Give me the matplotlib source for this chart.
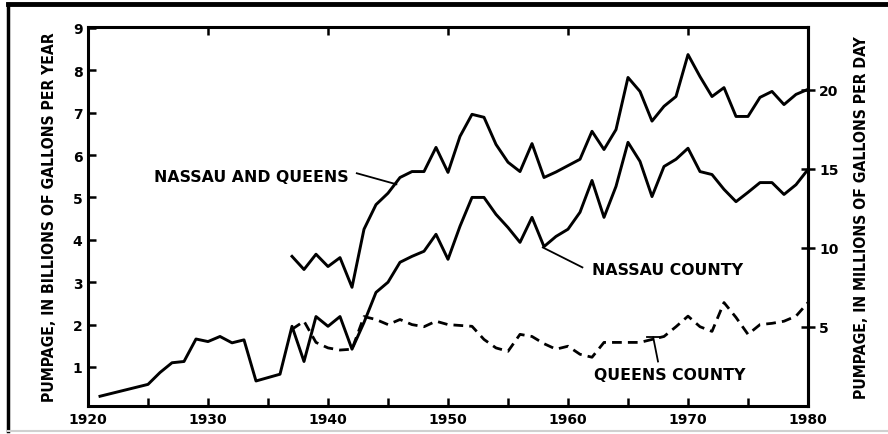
import matplotlib
matplotlib.use("Agg")
import matplotlib.pyplot as plt
from matplotlib import font_manager
from matplotlib.font_manager import FontProperties
from matplotlib.lines import Line2D

# Pumpage, billions of gallons per year
combined_years = list(range(1937, 1981))
combined_vals = [3.61, 3.30, 3.66, 3.37, 3.58, 2.88, 4.25, 4.83, 5.10, 5.47,
                 5.61, 5.61, 6.18, 5.59, 6.44, 6.96, 6.89, 6.25, 5.83, 5.61,
                 6.27, 5.47, 5.60, 5.75, 5.90, 6.56, 6.13, 6.60, 7.83, 7.50,
                 6.80, 7.15, 7.38, 8.37, 7.85, 7.38, 7.59, 6.91, 6.91, 7.36,
                 7.50, 7.19, 7.43, 7.55]

nassau_years = [1921, 1925, 1926, 1927, 1928, 1929, 1930, 1931, 1932, 1933,
                1934, 1936] + list(range(1937, 1981))
nassau_vals = [0.31, 0.59, 0.87, 1.10, 1.13, 1.66, 1.60, 1.72, 1.57, 1.64,
               0.67, 0.83,
               1.96, 1.13, 2.19, 1.96, 2.19, 1.42, 2.05, 2.76, 3.00, 3.47,
               3.61, 3.73, 4.13, 3.54, 4.32, 5.00, 5.00, 4.60, 4.29, 3.94,
               4.53, 3.84, 4.08, 4.25, 4.65, 5.40, 4.53, 5.26, 6.30, 5.85,
               5.02, 5.73, 5.90, 6.16, 5.61, 5.54, 5.19, 4.90, 5.12, 5.35,
               5.35, 5.07, 5.30, 5.66]

queens_years = list(range(1937, 1981))
queens_vals = [1.89, 2.08, 1.58, 1.45, 1.40, 1.42, 2.19, 2.12, 2.00, 2.12,
               2.00, 1.95, 2.08, 2.00, 1.98, 1.96, 1.65, 1.45, 1.37, 1.77,
               1.72, 1.55, 1.42, 1.49, 1.30, 1.23, 1.58, 1.58, 1.58, 1.58,
               1.65, 1.72, 1.95, 2.20, 1.95, 1.84, 2.52, 2.17, 1.77, 2.00,
               2.03, 2.08, 2.20, 2.52]

left_ticks = [1, 2, 3, 4, 5, 6, 7, 8, 9]
right_ticks = [5, 10, 15, 20]
decade_ticks = [1920, 1930, 1940, 1950, 1960, 1970, 1980]
half_ticks = [1925, 1935, 1945, 1955, 1965, 1975]

Y0 = 0.08            # bottom of the left scale
MGD_PER_UNIT = 2.68  # right scale as drawn on the scanned figure

# look for a narrow bold face for the axis titles
title_fp = None
for f in font_manager.fontManager.ttflist:
    narrow = ("Narrow" in f.name or "Condensed" in f.name
              or "condensed" in str(f.stretch) or f.fname.lower().find("condensed") >= 0)
    if narrow and str(f.weight) in ("bold", "700", "600"):
        title_fp = FontProperties(fname=f.fname)
        break
if title_fp is None:
    title_fp = FontProperties(family="DejaVu Sans", weight="bold")
    title_size = 9.6
else:
    title_size = 11.3
title_fp.set_size(title_size)

W, H = 888, 435
fig = plt.figure(figsize=(W / 100, H / 100), dpi=100)
ax = fig.add_axes([88 / W, 1 - 407 / H, 720 / W, 379 / H])

ax.plot(combined_years, combined_vals, color="black", lw=2.1, solid_joinstyle="round")
ax.plot(nassau_years, nassau_vals, color="black", lw=2.1, solid_joinstyle="round")
ax.plot(queens_years, queens_vals, color="black", lw=2.0,
        linestyle=(0, (3.5, 2.2)), dash_capstyle="butt")

ax.set_xlim(1920, 1980)
ax.set_ylim(Y0, 9.02)

for s in ax.spines.values():
    s.set_linewidth(2.2)

ax.set_xticks(decade_ticks)
ax.set_xticks(half_ticks, minor=True)
ax.set_yticks(left_ticks)
ax.tick_params(axis="x", which="both", direction="in", length=6, width=1.8,
               pad=4, labelsize=10, top=True)
ax.tick_params(axis="x", which="minor", top=False)
ax.tick_params(axis="y", direction="in", length=6, width=1.8, pad=4, labelsize=10)
for lab in ax.get_xticklabels() + ax.get_yticklabels():
    lab.set_fontweight("bold")

sec = ax.secondary_yaxis("right", functions=(lambda y: (y - Y0) * MGD_PER_UNIT,
                                             lambda m: m / MGD_PER_UNIT + Y0))
sec.set_yticks(right_ticks)
sec.tick_params(direction="inout", length=10, width=1.8, pad=3, labelsize=10)
sec.spines["right"].set_linewidth(2.2)
for lab in sec.get_yticklabels():
    lab.set_fontweight("bold")

ax.set_ylabel("PUMPAGE, IN BILLIONS OF GALLONS PER YEAR", fontproperties=title_fp,
              labelpad=11)
sec.set_ylabel("PUMPAGE, IN MILLIONS OF GALLONS PER DAY", fontproperties=title_fp,
               labelpad=11)

# curve labels with leader lines
lab_kw = dict(fontsize=11.3, fontweight="bold", va="center")
ax.text(1933.6, 5.50, "NASSAU AND QUEENS", ha="center", **lab_kw)
ax.plot([1942.4, 1945.7], [5.57, 5.31], color="black", lw=1.3)
ax.text(1962.0, 3.30, "NASSAU COUNTY", ha="left", **lab_kw)
ax.plot([1957.9, 1961.2], [3.82, 3.35], color="black", lw=1.3)
ax.text(1962.2, 0.83, "QUEENS COUNTY", ha="left", **lab_kw)
ax.plot([1966.6, 1967.6], [1.70, 1.70], color="black", lw=1.3)
ax.plot([1967.1, 1967.5], [1.70, 1.13], color="black", lw=1.3)

# scanned page frame
fig.add_artist(Line2D([8 / W, 1], [1 - 5 / H, 1 - 5 / H], color="black", lw=3.5))
fig.add_artist(Line2D([8 / W, 8 / W], [1 - 5 / H, 1 - 432 / H], color="black", lw=2.5))
fig.add_artist(Line2D([8 / W, 1], [1 - 432 / H, 1 - 432 / H], color="#d0d0d0", lw=1.5))

fig.savefig("out.png", dpi=100)
